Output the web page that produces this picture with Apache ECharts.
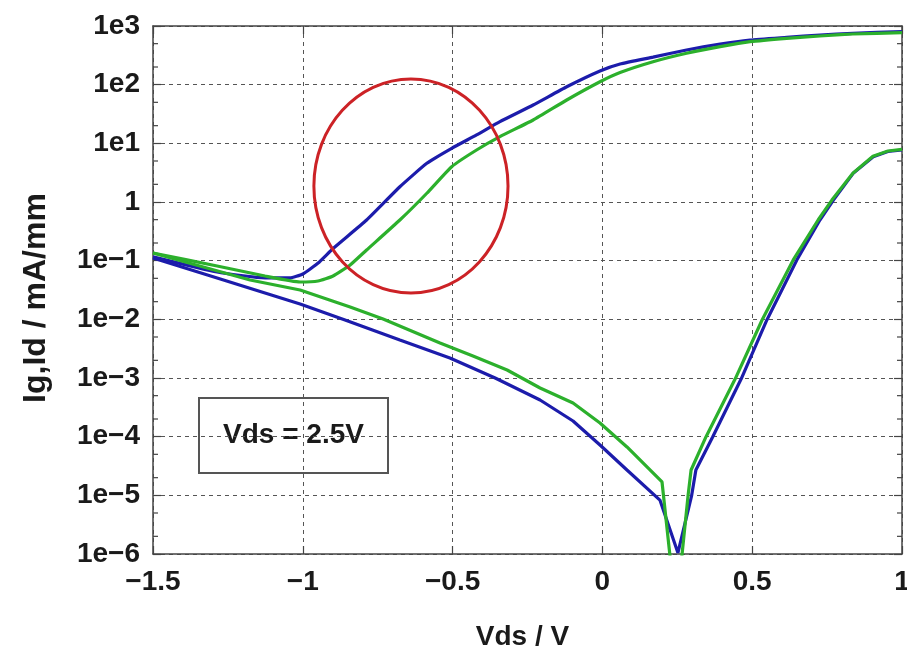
<!DOCTYPE html>
<html>
<head>
<meta charset="utf-8">
<title>Ig, Id vs Vds</title>
<script src="https://cdn.jsdelivr.net/npm/echarts@6/dist/echarts.min.js"></script>
<style>
  html, body { margin: 0; padding: 0; background: #fff; }
  #chart { width: 907px; height: 648px; }
</style>
</head>
<body>
<div id="chart"></div>
<script>
// Axis ranges and tick labels
const xMin = -1.5, xMax = 1, xStep = 0.5;
const yMin = 1e-6, yMax = 1e3;
const xTickLabels = ['−1.5', '−1', '−0.5', '0', '0.5', '1'];
const yTickLabels = ['1e−6', '1e−5', '1e−4', '1e−3', '1e−2', '1e−1', '1', '1e1', '1e2', '1e3'];

// Drain current, device A (blue)
const blueIdV = [-1.5, -1.286, -1.126, -1.043, -1.0, -0.949, -0.898, -0.787, -0.676, -0.586, -0.503, -0.420, -0.342, -0.231, -0.119, -0.008, 0.059, 0.169, 0.281, 0.393, 0.493, 0.615, 0.726, 0.836, 1.0];
const blueId  = [0.116, 0.0641, 0.0507, 0.0507, 0.0593, 0.0912, 0.163, 0.493, 1.82, 4.57, 8.23, 13.9, 23.4, 45, 92, 171, 225, 295, 390, 493, 577, 641, 703, 751, 806];

// Drain current, device B (green)
const greenIdV = [-1.5, -1.286, -1.126, -1.009, -0.949, -0.899, -0.842, -0.787, -0.676, -0.586, -0.503, -0.420, -0.342, -0.231, -0.119, -0.008, 0.059, 0.169, 0.281, 0.393, 0.493, 0.615, 0.726, 0.836, 1.0];
const greenId  = [0.135, 0.0811, 0.0548, 0.0433, 0.045, 0.0548, 0.0843, 0.152, 0.493, 1.41, 4.0, 7.7, 13, 25, 54.8, 112, 161, 246, 343, 444, 540, 617, 676, 731, 770];

// Gate current magnitude, device A (blue)
const blueIgV = [-1.5, -1.286, -1.009, -0.859, -0.676, -0.509, -0.358, -0.208, -0.098, -0.008, 0.082, 0.192, 0.252, 0.298, 0.312, 0.368, 0.463, 0.549, 0.599, 0.649, 0.726, 0.771, 0.837, 0.904, 0.953, 1.0];
const blueIg  = [0.111, 0.0507, 0.0182, 0.00975, 0.00445, 0.00219, 0.001, 4.22e-4, 1.85e-4, 7.2e-5, 2.7e-5, 8.3e-6, 1.05e-6, 1.0e-5, 2.7e-5, 9.9e-5, 9.6e-4, 9.75e-3, 0.0316, 0.103, 0.493, 1.08, 3.08, 5.92, 7.26, 7.7];

// Gate current magnitude, device B (green)
const greenIgV = [-1.5, -1.176, -1.009, -0.842, -0.732, -0.542, -0.432, -0.318, -0.208, -0.098, -0.008, 0.082, 0.199, 0.246, 0.286, 0.296, 0.346, 0.443, 0.533, 0.637, 0.720, 0.766, 0.836, 0.903, 0.953, 1.0];
const greenIg  = [0.135, 0.0468, 0.0316, 0.0162, 0.0101, 0.00395, 0.00237, 0.00137, 6.76e-4, 3.75e-4, 1.71e-4, 6.67e-5, 1.69e-5, 1e-7, 1.0e-5, 2.7e-5, 1.0e-4, 9.6e-4, 9.75e-3, 0.103, 0.493, 1.08, 3.1, 6.0, 7.4, 7.9];

// Minor tick values on the log axis (2 and 5 in each decade)
const minorTickMantissas = [2, 5];

// Highlighted region (data-space bounds of the ellipse)
const highlightX = [-0.963, -0.315];
const highlightY = [0.0281, 125];

const FONT = '"Liberation Sans", Arial, Helvetica, sans-serif';
const BLUE = '#1c1cab';
const GREEN = '#2cb02c';
const FRAME = '#444';

function zip(xs, ys) { return xs.map((x, i) => [x, ys[i]]); }

const minorTicks = [];
for (let e = -6; e < 3; e++) {
  minorTickMantissas.forEach(m => minorTicks.push([xMin, m * Math.pow(10, e)]));
}

const chart = echarts.init(document.getElementById('chart'), null, { renderer: 'canvas' });

const lineSeries = (name, data, color, smooth) => ({
  name, type: 'line', data, showSymbol: false, symbol: 'none',
  smooth: smooth, clip: true,
  lineStyle: { color, width: 3.2 },
  itemStyle: { color },
  z: 3
});

const option = {
  animation: false,
  backgroundColor: '#ffffff',
  grid: { left: 153, right: 5, top: 26, bottom: 94, containLabel: false, outerBoundsMode: 'none' },
  xAxis: [
    {
      type: 'value', min: xMin, max: xMax, interval: xStep, position: 'bottom',
      axisLine: { show: true, onZero: false, lineStyle: { color: FRAME, width: 1.5 } },
      axisTick: { show: true, inside: true, length: 8, lineStyle: { color: FRAME, width: 1.2 } },
      axisLabel: {
        fontSize: 28, fontWeight: 'bold', color: '#1a1a1a', fontFamily: FONT, margin: 14,
        formatter: v => xTickLabels[Math.round((v - xMin) / xStep)]
      },
      splitLine: { show: true, lineStyle: { type: [4, 4], color: '#555', width: 1 } },
      name: 'Vds / V', nameLocation: 'middle', nameGap: 69,
      nameTextStyle: { fontSize: 28, fontWeight: 'bold', color: '#1a1a1a', fontFamily: FONT, padding: [0, 10, 0, 0] }
    },
    {
      type: 'value', min: xMin, max: xMax, interval: xStep, position: 'top',
      axisLine: { show: true, onZero: false, lineStyle: { color: FRAME, width: 1.5 } },
      axisTick: { show: true, inside: true, length: 8, lineStyle: { color: FRAME, width: 1.2 } },
      axisLabel: { show: false }, splitLine: { show: false }
    }
  ],
  yAxis: [
    {
      type: 'log', logBase: 10, min: yMin, max: yMax, interval: 1, position: 'left',
      axisLine: { show: true, onZero: false, lineStyle: { color: FRAME, width: 1.5 } },
      axisTick: { show: true, inside: true, length: 8, lineStyle: { color: FRAME, width: 1.2 } },
      axisLabel: {
        fontSize: 28, fontWeight: 'bold', color: '#1a1a1a', fontFamily: FONT, margin: 13,
        formatter: v => yTickLabels[Math.round(Math.log10(v)) + 6]
      },
      splitLine: { show: true, lineStyle: { type: [4, 4], color: '#555', width: 1 } }
    },
    {
      type: 'log', logBase: 10, min: yMin, max: yMax, interval: 1, position: 'right',
      axisLine: { show: true, onZero: false, lineStyle: { color: FRAME, width: 1.5 } },
      axisTick: { show: true, inside: true, length: 8, lineStyle: { color: FRAME, width: 1.2 } },
      axisLabel: { show: false }, splitLine: { show: false }
    }
  ],
  series: [
    {
      name: 'minor ticks', type: 'custom', data: minorTicks, silent: true, clip: false, z: 2,
      renderItem: (params, api) => {
        const v = api.value(1);
        const pl = api.coord([xMin, v]);
        const pr = api.coord([xMax, v]);
        return {
          type: 'group', children: [
            { type: 'line', shape: { x1: pl[0], y1: pl[1], x2: pl[0] + 5, y2: pl[1] }, style: { stroke: FRAME, lineWidth: 1.2 } },
            { type: 'line', shape: { x1: pr[0] - 5, y1: pr[1], x2: pr[0], y2: pr[1] }, style: { stroke: FRAME, lineWidth: 1.2 } }
          ]
        };
      }
    },
    lineSeries('Ig A', zip(blueIgV, blueIg), BLUE, false),
    lineSeries('Id A', zip(blueIdV, blueId), BLUE, 0.15),
    lineSeries('Ig B', zip(greenIgV, greenIg), GREEN, false),
    lineSeries('Id B', zip(greenIdV, greenId), GREEN, 0.15)
  ],
  graphic: [
    {
      id: 'yTitle', type: 'text', x: 36, y: 298, rotation: Math.PI / 2,
      style: { text: 'Ig,Id / mA/mm', font: 'bold 32px ' + FONT, fill: '#1a1a1a', align: 'center', verticalAlign: 'middle' }
    },
    {
      id: 'biasBox', type: 'group', x: 199, y: 398, z: 50,
      children: [
        { type: 'rect', shape: { x: 0, y: 0, width: 189, height: 75 }, style: { fill: '#fff', stroke: '#555', lineWidth: 2 } },
        { type: 'text', x: 94.5, y: 37, style: { text: 'Vds = 2.5V', font: 'bold 28px ' + FONT, fill: '#1a1a1a', align: 'center', verticalAlign: 'middle' } }
      ]
    }
  ]
};

chart.setOption(option);

// Red ellipse placed from its data-space bounds
const p0 = chart.convertToPixel({ xAxisIndex: 0, yAxisIndex: 0 }, [highlightX[0], highlightY[1]]);
const p1 = chart.convertToPixel({ xAxisIndex: 0, yAxisIndex: 0 }, [highlightX[1], highlightY[0]]);
chart.setOption({
  graphic: [{
    id: 'highlight', type: 'ellipse', z: 60,
    shape: { cx: (p0[0] + p1[0]) / 2, cy: (p0[1] + p1[1]) / 2, rx: Math.abs(p1[0] - p0[0]) / 2, ry: Math.abs(p1[1] - p0[1]) / 2 },
    style: { fill: 'none', stroke: '#cc2226', lineWidth: 3 }
  }]
});
</script>
</body>
</html>
